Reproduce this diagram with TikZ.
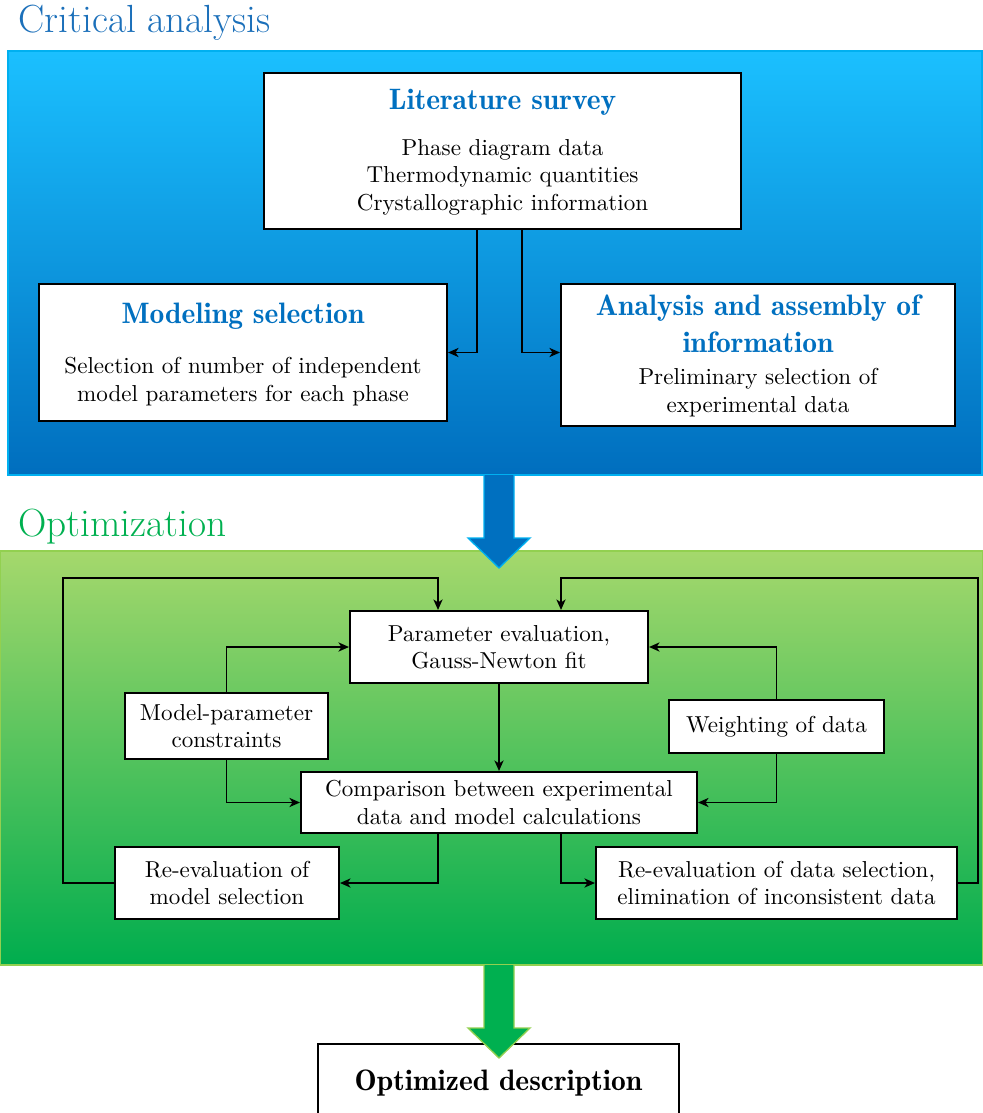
\documentclass[tikz,border=0pt]{standalone}
\usepackage{fontspec}
\newfontfamily\demifont{lmromandemi10-regular.otf}
\usetikzlibrary{arrows.meta}

\definecolor{headblue}{RGB}{0,112,192}
\definecolor{titleblue}{RGB}{28,112,186}
\definecolor{titlegreen}{RGB}{0,176,80}
\definecolor{bluetop}{RGB}{27,192,255}
\definecolor{bluebot}{RGB}{0,110,190}
\definecolor{blueedge}{RGB}{0,176,240}
\definecolor{greentop}{RGB}{165,216,108}
\definecolor{greenbot}{RGB}{0,173,78}
\definecolor{greenedge}{RGB}{146,208,80}

\def\pxu{0.44pt}

\tikzset{
  box/.style={draw=black, fill=white, line width=0.9pt, inner sep=0pt,
    align=center, font=\fontsize{10.15}{12.1}\selectfont},
  boxtext/.style={inner sep=0pt, align=center, font=\fontsize{10.15}{12.1}\selectfont},
  heading/.style={inner sep=0pt, align=center, text=headblue,
    font=\fontsize{13}{16.3}\demifont},
  title/.style={inner sep=0pt, anchor=base west, font=\fontsize{17.28}{21}\selectfont},
  conn/.style={line width=0.8pt, -{Stealth[length=4.6pt,width=4pt,inset=1.3pt]}},
  bigarrow/.style={line width=0.6pt, line join=miter}
}

\begin{document}
\begin{tikzpicture}[x=\pxu, y=-\pxu]
\useasboundingbox (0,0) rectangle (982,1113);

% section titles
\node[title, text=titleblue] (tcrit) at (18,33) {Critical analysis};
\node[title, text=titlegreen] (topt) at (18,536) {Optimization};

% background panels
\draw[blueedge, line width=0.8pt, top color=bluetop, bottom color=bluebot]
  (8,51) rectangle (982,475);
\draw[greenedge, line width=0.8pt, top color=greentop, bottom color=greenbot]
  (0,551) rectangle (983,965);

% arrow from the critical analysis stage into the optimization stage
\draw[bigarrow, draw=blueedge, fill=headblue]
  (484,475) -- (484,538) -- (468,538) -- (499,568) -- (530,538) -- (514,538) -- (514,475);

% ---- critical analysis boxes ----
\node[box, minimum width=477*\pxu, minimum height=156*\pxu] (lit) at (502.5,151) {};
\node[heading, anchor=base] (litH) at (502.5,110) {Literature survey};
\node[boxtext, anchor=north] (litB) at (502.5,139)
  {Phase diagram data\\Thermodynamic quantities\\Crystallographic information};

\node[box, minimum width=408*\pxu, minimum height=137*\pxu] (mod) at (243,352.5) {};
\node[heading, anchor=base] (modH) at (243,323) {Modeling selection};
\node[boxtext, anchor=north] (modB) at (243,357)
  {Selection of number of independent\\model parameters for each phase};

\node[box, minimum width=394*\pxu, minimum height=142*\pxu] (ana) at (758,355) {};
\node[heading, anchor=north] (anaH) at (758,294.5) {Analysis and assembly of\\information};
\node[boxtext, anchor=north] (anaB) at (758,368)
  {Preliminary selection of\\experimental data};

\draw[conn] (lit.south -| 477,0) |- (mod.east);
\draw[conn] (lit.south -| 522,0) |- (ana.west |- mod.east);

% ---- optimization loop ----
\node[box, minimum width=298*\pxu, minimum height=72*\pxu] (param) at (499,647)
  {Parameter evaluation,\\Gauss-Newton fit};
\node[box, minimum width=203*\pxu, minimum height=66*\pxu] (cons) at (226.5,726)
  {Model-parameter\\constraints};
\node[box, minimum width=215*\pxu, minimum height=53*\pxu] (weight) at (776.5,726.5)
  {Weighting of data};
\node[box, minimum width=396*\pxu, minimum height=61*\pxu] (comp) at (499,802.5)
  {Comparison between experimental\\data and model calculations};
\node[box, minimum width=224*\pxu, minimum height=72*\pxu] (rem) at (227,883)
  {Re-evaluation of\\model selection};
\node[box, minimum width=361*\pxu, minimum height=72*\pxu] (red) at (776.5,883)
  {Re-evaluation of data selection,\\elimination of inconsistent data};

\coordinate (lloop) at (63,578);
\coordinate (rloop) at (978,578);

\draw[conn] (rem.west) -| (lloop) -| (param.north -| 438,0);
\draw[conn] (red.east) -| (rloop) -| (param.north -| 561,0);
\draw[conn] (cons.north) |- (param.west);
\draw[conn] (weight.north) |- (param.east);
\draw[conn] (param.south) -- (comp.north);
\draw[conn] (cons.south) |- (comp.west);
\draw[conn] (weight.south) |- (comp.east);
\draw[conn] (comp.south -| 438,0) |- (rem.east);
\draw[conn] (comp.south -| 561,0) |- (red.west);

% ---- result ----
\node[box, minimum width=361*\pxu, minimum height=92*\pxu] (res) at (498.5,1090) {};
\node[heading, text=black, anchor=base] (resT) at (498.5,1090) {Optimized description};

\draw[bigarrow, draw=greenedge, fill=titlegreen]
  (484,965) -- (484,1028) -- (468,1028) -- (499,1058) -- (530,1028) -- (514,1028) -- (514,965);
\end{tikzpicture}
\end{document}
